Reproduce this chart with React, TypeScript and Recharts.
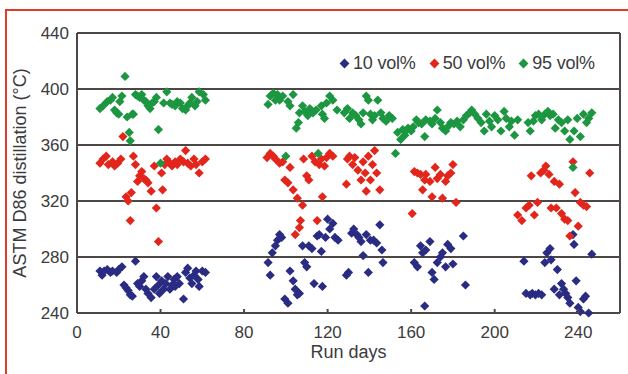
import {
  ScatterChart,
  Scatter,
  XAxis,
  YAxis,
  CartesianGrid,
  ReferenceLine,
  Label,
} from "recharts";

const xTicks = [0, 40, 80, 120, 160, 200, 240];
const yTicks = [240, 280, 320, 360, 400, 440];
const seriesNames = ["10 vol%", "50 vol%", "95 vol%"];
const seriesColors = ["#2a2b82", "#e2261c", "#1c9640"];

// [run day, °C]
const vol10: [number, number][] = [
  [11, 270], [12, 267], [13, 270], [14.5, 271], [16, 269], [17, 270], [19, 269], [20, 271],
  [21.5, 273], [22.5, 260], [23.5, 258], [24.5, 256], [25.5, 253], [26.5, 252], [28, 277],
  [29, 261], [30, 259], [31, 263], [32, 266], [33, 257], [34, 254], [35.5, 251], [37, 257],
  [38, 266], [39, 260], [39.5, 254], [40.5, 263], [41.5, 257], [42.5, 261], [43.5, 266],
  [44.5, 257], [45.5, 260], [46.5, 264], [47, 259], [48, 266], [49, 261], [51, 250], [52, 269],
  [53, 272], [54, 265], [55, 261], [56, 267], [57, 270], [58, 264], [58.5, 259], [60, 270],
  [61.5, 269],
  [91.5, 276], [92.5, 267], [93.5, 283], [95, 288], [96, 292], [97, 296], [98, 294], [99.5, 250],
  [101, 247], [102, 270], [103.5, 263], [104.5, 257], [105.5, 253], [106.5, 254], [108, 288],
  [109, 276], [110, 273], [111, 288], [112.5, 286], [113.5, 261], [115, 295], [116, 296],
  [117, 284], [117.5, 259], [119, 294], [120, 307], [121, 300], [122.5, 304], [123.5, 294],
  [125, 292], [129, 267], [130, 269], [131.5, 297], [132.5, 300], [134, 296], [135, 294],
  [136, 291], [137, 281], [138.5, 296], [139.5, 269], [140.5, 292], [142, 292], [143.5, 290],
  [145, 303], [146, 285], [146.5, 276],
  [161.5, 276], [163, 273], [164.5, 288], [165.5, 283], [166.5, 245], [167, 285], [169, 291],
  [170, 269], [171, 264], [172.5, 276], [174, 280], [175, 283], [176.5, 273], [177.5, 289],
  [179, 286], [180, 275], [185, 295], [186, 260],
  [214, 277], [215, 254], [217, 253], [218, 254], [219.5, 253], [221, 254], [222.5, 253],
  [224, 276], [225, 283], [226.5, 286], [227, 278], [228.5, 257], [230, 271], [231, 253],
  [232, 261], [233, 257], [234, 254], [235, 251], [236, 247], [237.5, 296], [238, 289],
  [239, 263], [240, 244], [241, 241], [242.5, 250], [243.5, 252], [245, 240], [246.5, 282],
];

const vol50: [number, number][] = [
  [11, 347], [12.5, 350], [14, 352], [15, 346], [17, 348], [18, 345], [19.5, 347], [21, 350],
  [22, 366], [23.5, 323], [24.5, 320], [25.5, 306], [26, 326], [27, 352], [28, 346], [29, 334],
  [30, 338], [31, 341], [32, 336], [33, 335], [34, 333], [35.5, 327], [37, 345], [38, 315],
  [39, 291], [40.5, 340], [41, 328], [42, 346], [43, 350], [44.5, 347], [45.5, 345], [47, 348],
  [48, 346], [49.5, 350], [51, 348], [52, 356], [53, 347], [54.5, 345], [56, 350], [57, 346],
  [58.5, 340], [60, 348], [61.5, 350],
  [91, 351], [92.5, 354], [94, 352], [95, 350], [97, 347], [98.5, 348], [99.5, 335], [101, 333],
  [102, 344], [103.5, 328], [104.5, 296], [105.5, 322], [106.5, 301], [107, 306], [108, 317],
  [108.5, 350], [110, 338], [111, 335], [112.5, 352], [114, 348], [115, 306], [116, 346],
  [117, 350], [117.5, 323], [118.5, 345], [119.5, 351], [121, 354], [122.5, 352], [129, 332],
  [129.5, 350], [130.5, 352], [132, 346], [133, 351], [134.5, 342], [136, 335], [137, 348],
  [138, 340], [138.5, 327], [139.5, 352], [140.5, 335], [141.5, 346], [142.5, 356], [143.5, 340],
  [145, 328],
  [160.5, 311], [161.5, 341], [163, 340], [164.5, 339], [165.5, 328], [166.5, 335], [167, 339],
  [169, 334], [170, 323], [171.5, 344], [172.5, 336], [174, 339], [175, 322], [176.5, 334],
  [177.5, 338], [179, 340], [180, 346], [181.5, 319],
  [211, 310], [213, 306], [215, 315], [216.5, 317], [217.5, 338], [219, 310], [220.5, 319],
  [222, 340], [223.5, 342], [224.5, 345], [226, 339], [227, 315], [228.5, 334], [229.5, 315],
  [231, 332], [232, 311], [233.5, 307], [235, 306], [236, 295], [237.5, 348], [238.5, 326],
  [240, 302], [241, 319], [242.5, 317], [244, 316], [245.5, 340],
];

const vol95: [number, number][] = [
  [11, 386], [12.5, 388], [14.5, 391], [16, 392], [17, 394], [18, 385], [19, 383], [20, 382],
  [20.5, 391], [21.5, 395], [23, 409], [24, 380], [25, 369], [25.5, 363], [26.5, 382], [27, 382],
  [28, 396], [29, 395], [30, 394], [31, 396], [32, 392], [33, 391], [34, 388], [35, 386],
  [36, 390], [37, 391], [38, 394], [39, 371], [40, 347], [41.5, 390], [43, 398], [44.5, 390],
  [45.5, 389], [47, 388], [48, 391], [49.5, 390], [50.5, 386], [52, 385], [53, 388], [54, 390],
  [55, 394], [56.5, 388], [57.5, 391], [58.5, 398], [60.5, 396], [61.5, 392],
  [91.5, 389], [92.5, 395], [94, 397], [95, 392], [96, 396], [97, 392], [98.5, 395], [100, 352],
  [101, 391], [102, 388], [103.5, 396], [105, 372], [106, 376], [106.5, 383], [108, 388],
  [109, 384], [110.5, 381], [111.5, 386], [113, 383], [114.5, 385], [115.5, 354], [117, 388],
  [117.5, 382], [118.5, 379], [119.5, 390], [121, 395], [122.5, 392], [124.5, 385], [128, 383],
  [129.5, 386], [130.5, 379], [132, 383], [133.5, 381], [135, 378], [136, 375], [137, 383],
  [138.5, 395], [139.5, 392], [140.5, 382], [141.5, 378], [142.5, 381], [144, 392], [145.5, 383],
  [146.5, 379], [148, 377], [149.5, 381], [151, 379],
  [152.5, 354], [153.5, 369], [155, 364], [156, 371], [157, 367], [157.5, 370], [158.5, 372],
  [160, 370], [161, 373], [162.5, 378], [163.5, 376], [165, 375], [166.5, 366], [167, 378],
  [169, 377], [170, 375], [171.5, 379], [172.5, 385], [174, 376], [175, 372], [176.5, 370],
  [177.5, 373], [179, 376], [180.5, 375], [182, 377], [183.5, 373], [185, 378], [186.5, 381],
  [188, 383], [189, 385], [190.5, 382], [192, 379], [193.5, 376], [195, 370], [196, 382],
  [197.5, 377], [198.5, 373], [200, 381], [201.5, 378], [203, 370], [204.5, 384], [205.5, 379],
  [207, 373], [208, 377], [209.5, 367], [211, 378], [216, 376], [217, 370], [218.5, 377],
  [219.5, 381], [221, 382], [222.5, 378], [224, 382], [225.5, 384], [226.5, 381], [228, 382],
  [229, 372], [230.5, 378], [232, 376], [233.5, 370], [235, 378], [236, 364], [237.5, 344],
  [238, 370], [239.5, 379], [241, 366], [242.5, 382], [244, 376], [245, 379], [246.5, 383],
];

const toPoints = (rows: [number, number][]) => rows.map(([day, value]) => ({ day, value }));
const seriesData = [toPoints(vol10), toPoints(vol50), toPoints(vol95)];

const FONT = '"Liberation Sans", Arial, sans-serif';
const TEXT = "#3b3b3b";
const AXIS = "#4d4745";

const Diamond = (props: any) => {
  const { cx, cy, fill } = props;
  if (cx == null || cy == null) return null;
  const r = 4.6;
  return (
    <polygon
      points={`${cx},${cy - r} ${cx + r},${cy} ${cx},${cy + r} ${cx - r},${cy}`}
      fill={fill}
    />
  );
};

const XTick = (props: any) => {
  const { x, y, payload } = props;
  return (
    <g>
      <line x1={x} y1={y} x2={x} y2={y - 4} stroke={AXIS} strokeWidth={2} />
      <text
        x={x}
        y={y + 25}
        textAnchor="middle"
        fill={TEXT}
        fontSize={17}
        fontFamily={FONT}
      >
        {payload.value}
      </text>
    </g>
  );
};

// legend sits inside the plot, top right
const LegendBox = () => (
  <div
    style={{
      position: "absolute",
      left: 341,
      top: 53,
      display: "flex",
      alignItems: "center",
      gap: 15,
      fontFamily: FONT,
      fontSize: 18,
      color: TEXT,
      letterSpacing: -0.2,
      whiteSpace: "nowrap",
    }}
  >
    {seriesNames.map((name, i) => (
      <span key={name} style={{ display: "flex", alignItems: "center" }}>
        <span
          style={{
            display: "inline-block",
            width: 7,
            height: 7,
            background: seriesColors[i],
            transform: "rotate(45deg)",
            marginRight: 5,
          }}
        />
        {name}
      </span>
    ))}
  </div>
);

export default function App() {
  return (
    <div
      style={{
        position: "absolute",
        left: 0,
        top: 0,
        width: 628,
        height: 374,
        background: "#fff",
        overflow: "hidden",
      }}
    >
      <div
        style={{
          position: "absolute",
          left: 5,
          top: 9,
          width: 623,
          height: 365,
          borderTop: "2.5px solid #e3392b",
          borderLeft: "2.5px solid #e3392b",
          boxSizing: "border-box",
        }}
      />
      <ScatterChart
        width={628}
        height={374}
        margin={{ top: 33, right: 8, bottom: 31, left: 0 }}
        style={{ position: "absolute", left: 0, top: 0 }}
      >
        <CartesianGrid horizontal vertical={false} stroke={AXIS} strokeWidth={2} />
        <XAxis
          type="number"
          dataKey="day"
          domain={[0, 260]}
          ticks={xTicks}
          height={30}
          tickLine={false}
          tickSize={0}
          tickMargin={0}
          axisLine={{ stroke: AXIS, strokeWidth: 2 }}
          tick={<XTick />}
          interval={0}
        >
          <Label
            value="Run days"
            position="bottom"
            offset={0}
            dy={2}
            style={{ fontSize: 18, fontFamily: FONT, fill: TEXT }}
          />
        </XAxis>
        <YAxis
          type="number"
          dataKey="value"
          domain={[240, 440]}
          ticks={yTicks}
          width={77}
          tickLine={false}
          tickSize={0}
          tickMargin={8}
          interval={0}
          axisLine={{ stroke: AXIS, strokeWidth: 2 }}
          tick={{ fontSize: 17, fontFamily: FONT, fill: TEXT }}
        >
          <Label
            value="ASTM D86 distillation (°C)"
            angle={-90}
            position="insideLeft"
            offset={20}
            style={{ fontSize: 18, fontFamily: FONT, fill: TEXT, textAnchor: "middle" }}
          />
        </YAxis>
        <ReferenceLine y={440} stroke={AXIS} strokeWidth={2} />
        <ReferenceLine x={260} stroke={AXIS} strokeWidth={2} />
        {seriesData.map((data, i) => (
          <Scatter
            key={seriesNames[i]}
            name={seriesNames[i]}
            data={data}
            fill={seriesColors[i]}
            shape={<Diamond />}
            isAnimationActive={false}
          />
        ))}
      </ScatterChart>
      <LegendBox />
    </div>
  );
}
